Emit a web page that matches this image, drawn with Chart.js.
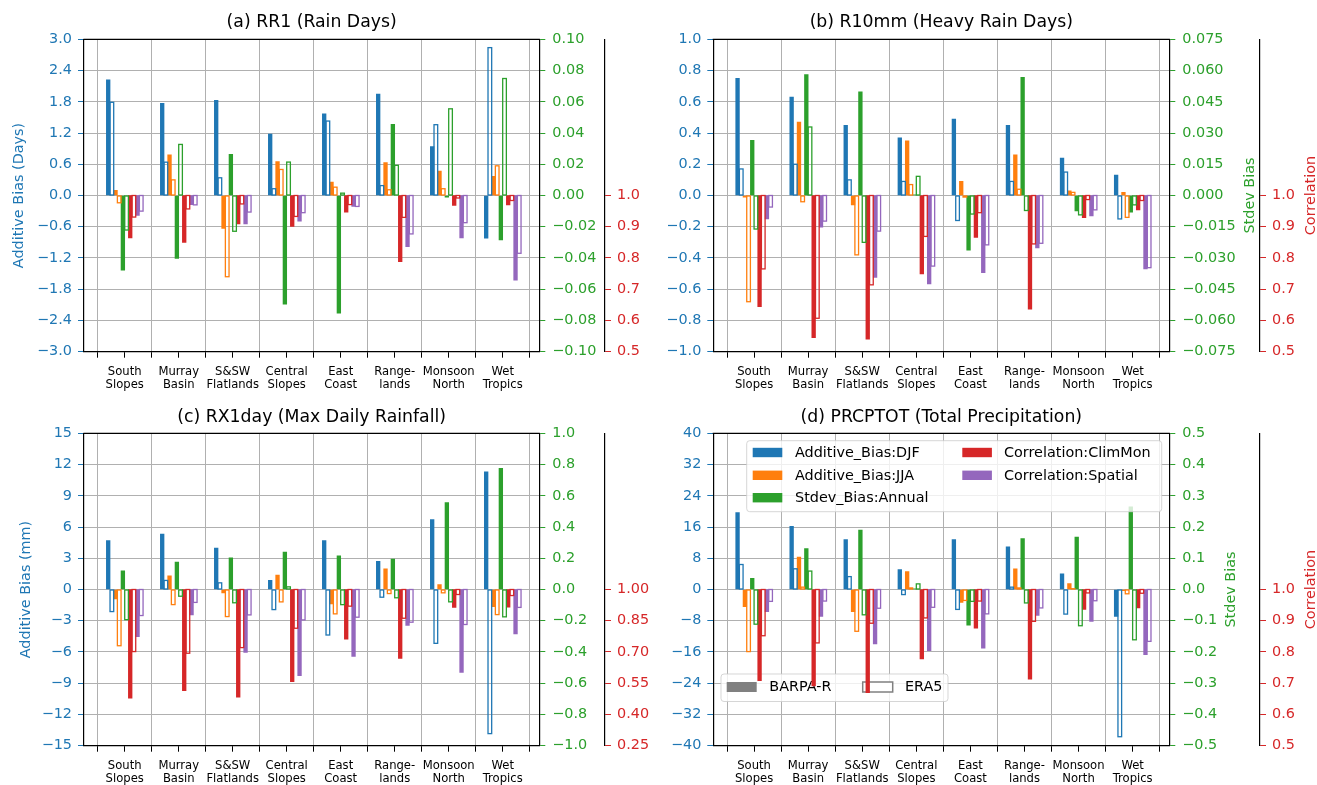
<!DOCTYPE html>
<html>
<head>
<meta charset="utf-8">
<script src="https://cdn.jsdelivr.net/npm/chart.js@4.4.1/dist/chart.umd.min.js"></script>
<style>
html,body{margin:0;padding:0;background:#fff;width:1317px;height:785px;overflow:hidden;position:relative}
canvas{position:absolute;display:block}
</style>
</head>
<body>
<canvas id="pa" width="658" height="392" style="left:0px;top:0px;width:658px;height:392px"></canvas>
<canvas id="pb" width="659" height="392" style="left:658px;top:0px;width:659px;height:392px"></canvas>
<canvas id="pc" width="658" height="393" style="left:0px;top:392px;width:658px;height:393px"></canvas>
<canvas id="pd" width="659" height="393" style="left:658px;top:392px;width:659px;height:393px"></canvas>
<script>
// ---------------- categories & legend names ----------------
const categories = [["South","Slopes"],["Murray","Basin"],["S&SW","Flatlands"],["Central","Slopes"],["East","Coast"],["Range-","lands"],["Monsoon","North"],["Wet","Tropics"]];
const seriesNames = ["Additive_Bias:DJF","Additive_Bias:JJA","Stdev_Bias:Annual","Correlation:ClimMon","Correlation:Spatial"];
const sourceNames = ["BARPA-R","ERA5"];
const corrRef = 1.0;

// ---------------- (a) RR1 ----------------
const rr1DjfBarpa  = [2.22, 1.77, 1.83, 1.18, 1.57, 1.95, 0.94, -0.82];
const rr1DjfEra5   = [1.79, 0.64, 0.34, 0.13, 1.43, 0.19, 1.36, 2.84];
const rr1JjaBarpa  = [0.10, 0.78, -0.63, 0.65, 0.26, 0.63, 0.47, 0.37];
const rr1JjaEra5   = [-0.14, 0.30, -1.56, 0.50, 0.16, 0.11, 0.13, 0.57];
const rr1StdBarpa  = [-0.0478, -0.0403, 0.0263, -0.0696, -0.0754, 0.0456, -0.0011, -0.0285];
const rr1StdEra5   = [-0.0221, 0.0327, -0.0229, 0.0214, 0.0015, 0.0193, 0.0555, 0.0749];
const rr1ClimBarpa = [0.864, 0.850, 0.909, 0.901, 0.947, 0.788, 0.968, 0.970];
const rr1ClimEra5  = [0.931, 0.957, 0.973, 0.933, 0.971, 0.930, 0.992, 0.984];
const rr1SpatBarpa = [0.936, 0.971, 0.909, 0.918, 0.965, 0.836, 0.864, 0.729];
const rr1SpatEra5  = [0.950, 0.970, 0.947, 0.945, 0.965, 0.877, 0.913, 0.815];
const rr1AddTicks  = [-3.0, -2.4, -1.8, -1.2, -0.6, 0.0, 0.6, 1.2, 1.8, 2.4, 3.0];
const rr1StdTicks  = [-0.10, -0.08, -0.06, -0.04, -0.02, 0.00, 0.02, 0.04, 0.06, 0.08, 0.10];
const rr1CorrTicks = [0.5, 0.6, 0.7, 0.8, 0.9, 1.0];

// ---------------- (b) R10mm ----------------
const r10DjfBarpa  = [0.75, 0.63, 0.45, 0.37, 0.49, 0.45, 0.24, 0.13];
const r10DjfEra5   = [0.17, 0.20, 0.10, 0.09, -0.16, 0.09, 0.15, -0.15];
const r10JjaBarpa  = [-0.01, 0.47, -0.06, 0.35, 0.09, 0.26, 0.03, 0.02];
const r10JjaEra5   = [-0.68, -0.04, -0.38, 0.07, -0.01, 0.04, 0.02, -0.14];
const r10StdBarpa  = [0.0265, 0.0581, 0.0498, 0.0003, -0.0262, 0.0567, -0.0074, -0.0080];
const r10StdEra5   = [-0.0161, 0.0329, -0.0225, 0.0092, -0.0089, -0.0072, -0.0093, -0.0045];
const r10ClimBarpa = [0.644, 0.545, 0.540, 0.749, 0.866, 0.636, 0.929, 0.954];
const r10ClimEra5  = [0.765, 0.607, 0.714, 0.869, 0.945, 0.845, 0.987, 0.984];
const r10SpatBarpa = [0.925, 0.899, 0.738, 0.717, 0.753, 0.832, 0.935, 0.765];
const r10SpatEra5  = [0.963, 0.918, 0.886, 0.774, 0.842, 0.847, 0.954, 0.769];
const r10AddTicks  = [-1.0, -0.8, -0.6, -0.4, -0.2, 0.0, 0.2, 0.4, 0.6, 0.8, 1.0];
const r10StdTicks  = [-0.075, -0.060, -0.045, -0.030, -0.015, 0.000, 0.015, 0.030, 0.045, 0.060, 0.075];
const r10CorrTicks = [0.5, 0.6, 0.7, 0.8, 0.9, 1.0];

// ---------------- (c) RX1day ----------------
const rx1DjfBarpa  = [4.69, 5.33, 3.98, 0.87, 4.69, 2.70, 6.71, 11.31];
const rx1DjfEra5   = [-2.12, 0.87, 0.64, -1.93, -4.37, -0.74, -5.17, -13.84];
const rx1JjaBarpa  = [-0.90, 1.32, -0.32, 1.38, -1.38, 1.99, 0.48, -1.64];
const rx1JjaEra5   = [-5.40, -1.45, -2.60, -1.19, -2.34, -0.39, -0.32, -2.41];
const rx1StdBarpa  = [0.120, 0.175, 0.203, 0.240, 0.216, 0.195, 0.557, 0.775];
const rx1StdEra5   = [-0.193, -0.043, -0.085, 0.017, -0.097, -0.053, -0.079, -0.175];
const rx1ClimBarpa = [0.478, 0.514, 0.483, 0.557, 0.761, 0.669, 0.914, 0.915];
const rx1ClimEra5  = [0.702, 0.694, 0.721, 0.814, 0.920, 0.862, 0.976, 0.971];
const rx1SpatBarpa = [0.774, 0.878, 0.698, 0.586, 0.679, 0.827, 0.602, 0.787];
const rx1SpatEra5  = [0.875, 0.938, 0.878, 0.854, 0.867, 0.843, 0.832, 0.914];
const rx1AddTicks  = [-15, -12, -9, -6, -3, 0, 3, 6, 9, 12, 15];
const rx1StdTicks  = [-1.0, -0.8, -0.6, -0.4, -0.2, 0.0, 0.2, 0.4, 0.6, 0.8, 1.0];
const rx1CorrTicks = [0.25, 0.40, 0.55, 0.70, 0.85, 1.00];

// ---------------- (d) PRCPTOT ----------------
const prcDjfBarpa  = [19.7, 16.2, 12.8, 5.1, 12.8, 10.9, 4.0, -6.9];
const prcDjfEra5   = [6.4, 5.3, 3.3, -1.3, -5.1, 0.6, -6.3, -37.7];
const prcJjaBarpa  = [-4.4, 8.3, -5.7, 4.6, -3.3, 5.3, 1.5, -0.3];
const prcJjaEra5   = [-15.9, 0.6, -10.7, 0.4, -2.8, 0.4, 0.2, -1.1];
const prcStdBarpa  = [0.036, 0.131, 0.190, 0.002, -0.114, 0.163, 0.168, 0.265];
const prcStdEra5   = [-0.111, 0.059, -0.081, 0.018, -0.038, -0.043, -0.116, -0.161];
const prcClimBarpa = [0.708, 0.691, 0.670, 0.778, 0.876, 0.713, 0.936, 0.941];
const prcClimEra5  = [0.852, 0.829, 0.892, 0.909, 0.963, 0.898, 0.989, 0.988];
const prcSpatBarpa = [0.929, 0.914, 0.826, 0.804, 0.812, 0.917, 0.898, 0.791];
const prcSpatEra5  = [0.962, 0.963, 0.940, 0.943, 0.922, 0.941, 0.964, 0.834];
const prcAddTicks  = [-40, -32, -24, -16, -8, 0, 8, 16, 24, 32, 40];
const prcStdTicks  = [-0.5, -0.4, -0.3, -0.2, -0.1, 0.0, 0.1, 0.2, 0.3, 0.4, 0.5];
const prcCorrTicks = [0.5, 0.6, 0.7, 0.8, 0.9, 1.0];

// ---------------- styling ----------------
const FONT = '"DejaVu Sans", "Liberation Sans", sans-serif';
const BLUE = '#1f77b4', ORANGE = '#ff7f0e', GREEN = '#2ca02c', RED = '#d62728', PURPLE = '#9467bd';
const seriesColors = [BLUE, ORANGE, GREEN, RED, PURPLE];
const GRID = '#b0b0b0';
const TICK_FONT = 14.4, LABEL_FONT = 14.4, TITLE_FONT = 17.3, XLAB_FONT = 11.6;
const HOLLOW_LW = 1.3;

function fmt(v, d) {
  const s = Math.abs(v).toFixed(d);
  return (v < 0 && parseFloat(s) !== 0 ? '\u2212' : '') + s;
}

const xTicks = [];
categories.forEach((c, i) => { xTicks.push(i - 0.5, i); });
xTicks.push(categories.length - 0.5);

function roundRectPath(ctx, x, y, w, h, r) {
  ctx.beginPath();
  ctx.moveTo(x + r, y);
  ctx.lineTo(x + w - r, y); ctx.quadraticCurveTo(x + w, y, x + w, y + r);
  ctx.lineTo(x + w, y + h - r); ctx.quadraticCurveTo(x + w, y + h, x + w - r, y + h);
  ctx.lineTo(x + r, y + h); ctx.quadraticCurveTo(x, y + h, x, y + h - r);
  ctx.lineTo(x, y + r); ctx.quadraticCurveTo(x, y, x + r, y);
  ctx.closePath();
}

function drawSeriesLegend(ctx, a) {
  const bx = a.left + 33.4, by = a.top + 7.4, bw = (a.right - 7.6) - bx, bh = 71;
  ctx.save();
  roundRectPath(ctx, bx, by, bw, bh, 3);
  ctx.fillStyle = 'rgba(255,255,255,0.8)'; ctx.fill();
  ctx.strokeStyle = 'rgba(204,204,204,0.8)'; ctx.lineWidth = 1; ctx.stroke();
  const rows = [11.8, 34.6, 57.0];
  ctx.font = LABEL_FONT + 'px ' + FONT; ctx.textAlign = 'left'; ctx.textBaseline = 'middle';
  seriesNames.forEach((name, i) => {
    const col = i < 3 ? 0 : 1, row = i < 3 ? i : i - 3;
    const px = bx + (col ? 215.6 : 6), tx = bx + (col ? 257.3 : 48.3), cy = by + rows[row];
    ctx.fillStyle = seriesColors[i]; ctx.fillRect(px, cy - 4.7, 29.6, 9.4);
    ctx.fillStyle = '#000'; ctx.fillText(name, tx, cy + 0.5);
  });
  ctx.restore();
}

function drawSourceLegend(ctx, a) {
  const bx = a.left + 7.7, by = a.top + 240.7, bw = 227, bh = 27.5;
  ctx.save();
  roundRectPath(ctx, bx, by, bw, bh, 3);
  ctx.fillStyle = 'rgba(255,255,255,0.8)'; ctx.fill();
  ctx.strokeStyle = 'rgba(204,204,204,0.8)'; ctx.lineWidth = 1; ctx.stroke();
  const cy = by + 13;
  ctx.fillStyle = '#808080'; ctx.fillRect(bx + 5.7, cy - 5, 30, 10);
  ctx.fillStyle = '#fff'; ctx.fillRect(bx + 141.7, cy - 5, 30, 10);
  ctx.strokeStyle = '#808080'; ctx.lineWidth = 1.5; ctx.strokeRect(bx + 141.7, cy - 5, 30, 10);
  ctx.font = LABEL_FONT + 'px ' + FONT; ctx.textAlign = 'left'; ctx.textBaseline = 'middle'; ctx.fillStyle = '#000';
  ctx.fillText(sourceNames[0], bx + 48.3, cy + 0.5);
  ctx.fillText(sourceNames[1], bx + 184, cy + 0.5);
  ctx.restore();
}

function makeDecor(p) {
  return {
    id: 'decor',
    beforeDatasetsDraw(chart) {
      if (p.sourceLegend) drawSourceLegend(chart.ctx, chart.chartArea);
    },
    // ERA5 (hollow) bars: outline the rectangles the library computed, with the
    // edge centred on the bar boundary like an unfilled patch
    afterDatasetDraw(chart, args) {
      const dsCfg = chart.data.datasets[args.index];
      if (!dsCfg.hollow) return;
      const ctx = chart.ctx;
      ctx.save();
      ctx.strokeStyle = dsCfg.borderColor;
      ctx.lineWidth = HOLLOW_LW;
      args.meta.data.forEach(el => {
        const pr = el.getProps(['x', 'y', 'base', 'width'], true);
        const top = Math.min(pr.y, pr.base), h = Math.abs(pr.y - pr.base);
        ctx.strokeRect(pr.x - pr.width / 2, top, pr.width, h);
      });
      ctx.restore();
    },
    afterDatasetsDraw(chart) {
      const ctx = chart.ctx, a = chart.chartArea;
      ctx.save();
      ctx.strokeStyle = '#000'; ctx.lineWidth = 1.2;
      ctx.beginPath(); ctx.moveTo(a.left - 0.6, a.top); ctx.lineTo(a.right + 0.6, a.top); ctx.stroke();
      ctx.restore();
      if (p.seriesLegend) drawSeriesLegend(ctx, a);
    },
    afterDraw(chart) {
      const ctx = chart.ctx, a = chart.chartArea;
      ctx.save();
      ctx.fillStyle = '#000'; ctx.font = TITLE_FONT + 'px ' + FONT;
      ctx.textAlign = 'center'; ctx.textBaseline = 'middle';
      ctx.fillText(p.title, (a.left + a.right) / 2, p.titleY);
      const cy = (a.top + a.bottom) / 2;
      const vlabel = (text, x, color) => {
        ctx.save(); ctx.translate(x, cy); ctx.rotate(-Math.PI / 2);
        ctx.fillStyle = color; ctx.font = LABEL_FONT + 'px ' + FONT;
        ctx.textAlign = 'center'; ctx.textBaseline = 'middle';
        ctx.fillText(text, 0, 0); ctx.restore();
      };
      if (p.leftLabel) vlabel(p.leftLabel, p.leftLabelX, BLUE);
      if (p.greenLabelX) vlabel('Stdev Bias', p.greenLabelX, GREEN);
      if (p.redLabelX) vlabel('Correlation', p.redLabelX, RED);
      ctx.restore();
    }
  };
}

function buildPanel(canvasId, p) {
  const mk = (label, arr, color, axis, hollow, floating) => ({
    label: label,
    yAxisID: axis,
    hollow: hollow,
    data: arr.map((v, i) => ({ x: i, y: floating ? [v, corrRef] : v })),
    backgroundColor: hollow ? 'rgba(0,0,0,0)' : color,
    borderColor: color,
    borderWidth: 0,
    borderSkipped: false,
    barThickness: 3.67
  });
  const s = p.series;
  const datasets = [
    mk('DJF BARPA-R', s[0], BLUE, 'y', false, false),
    mk('DJF ERA5', s[1], BLUE, 'y', true, false),
    mk('JJA BARPA-R', s[2], ORANGE, 'y', false, false),
    mk('JJA ERA5', s[3], ORANGE, 'y', true, false),
    mk('Stdev BARPA-R', s[4], GREEN, 'y2', false, false),
    mk('Stdev ERA5', s[5], GREEN, 'y2', true, false),
    mk('ClimMon BARPA-R', s[6], RED, 'y3', false, true),
    mk('ClimMon ERA5', s[7], RED, 'y3', true, true),
    mk('Spatial BARPA-R', s[8], PURPLE, 'y3', false, true),
    mk('Spatial ERA5', s[9], PURPLE, 'y3', true, true)
  ];
  const corrMin = p.corrTicks[0];
  const corrMax = 2 * corrRef - corrMin;
  new Chart(document.getElementById(canvasId), {
    type: 'bar',
    data: { datasets: datasets },
    options: {
      responsive: false,
      devicePixelRatio: 1,
      animation: false,
      events: [],
      layout: { padding: { top: p.padTop, left: 0, right: 0, bottom: 0 } },
      plugins: { legend: { display: false }, tooltip: { enabled: false }, title: { display: false } },
      scales: {
        x: {
          type: 'linear', position: 'bottom', bounds: 'data',
          min: -0.754, max: categories.length - 0.322,
          offset: false,
          afterBuildTicks: sc => { sc.ticks = xTicks.map(v => ({ value: v })); },
          afterFit: sc => { sc.height = p.xH; },
          ticks: {
            autoSkip: false, maxRotation: 0, minRotation: 0, padding: 8, color: '#000',
            font: { family: FONT, size: XLAB_FONT, lineHeight: 1.12 },
            callback: v => Number.isInteger(v) ? categories[v] : ''
          },
          grid: {
            offset: false, lineWidth: 1,
            color: c => (c.tick && !Number.isInteger(c.tick.value)) ? GRID : 'rgba(0,0,0,0)',
            tickColor: '#000', tickLength: 6, drawTicks: true
          },
          border: { display: true, color: '#000', width: 1.2 }
        },
        y: {
          type: 'linear', position: 'left', bounds: 'data',
          min: p.addTicks[0], max: p.addTicks[p.addTicks.length - 1],
          afterBuildTicks: sc => { sc.ticks = p.addTicks.map(v => ({ value: v })); },
          afterFit: sc => { sc.width = p.leftW; },
          ticks: { color: BLUE, padding: 6, font: { family: FONT, size: TICK_FONT }, callback: v => fmt(v, p.addDec) },
          grid: { color: GRID, lineWidth: 1, tickColor: BLUE, tickLength: 6, drawTicks: true },
          border: { display: true, color: '#000', width: 1.2 }
        },
        y2: {
          type: 'linear', position: 'right', bounds: 'data', weight: 0,
          min: p.stdTicks[0], max: p.stdTicks[p.stdTicks.length - 1],
          afterBuildTicks: sc => { sc.ticks = p.stdTicks.map(v => ({ value: v })); },
          afterFit: sc => { sc.width = p.greenW; },
          ticks: { color: GREEN, padding: 7, font: { family: FONT, size: TICK_FONT }, callback: v => fmt(v, p.stdDec) },
          grid: { drawOnChartArea: false, color: GREEN, lineWidth: 1, tickColor: GREEN, tickLength: 6, drawTicks: true },
          border: { display: true, color: '#000', width: 1.2 }
        },
        y3: {
          type: 'linear', position: 'right', bounds: 'data', weight: 1,
          min: corrMin, max: corrMax,
          afterBuildTicks: sc => { sc.ticks = p.corrTicks.map(v => ({ value: v })); },
          afterFit: sc => { sc.width = p.redW; },
          ticks: { color: RED, padding: 6, font: { family: FONT, size: TICK_FONT }, callback: v => fmt(v, p.corrDec) },
          grid: { drawOnChartArea: false, color: RED, lineWidth: 1, tickColor: RED, tickLength: 6, drawTicks: true },
          border: { display: true, color: '#000', width: 1.2 }
        }
      }
    },
    plugins: [makeDecor(p)]
  });
}

buildPanel('pa', {
  title: '(a) RR1 (Rain Days)', titleY: 23,
  series: [rr1DjfBarpa, rr1DjfEra5, rr1JjaBarpa, rr1JjaEra5, rr1StdBarpa, rr1StdEra5, rr1ClimBarpa, rr1ClimEra5, rr1SpatBarpa, rr1SpatEra5],
  addTicks: rr1AddTicks, addDec: 1, stdTicks: rr1StdTicks, stdDec: 2, corrTicks: rr1CorrTicks, corrDec: 1,
  leftW: 84, greenW: 65.7, redW: 53, padTop: 39.3, xH: 40.3,
  leftLabel: 'Additive Bias (Days)', leftLabelX: 19.5
});
buildPanel('pb', {
  title: '(b) R10mm (Heavy Rain Days)', titleY: 23,
  series: [r10DjfBarpa, r10DjfEra5, r10JjaBarpa, r10JjaEra5, r10StdBarpa, r10StdEra5, r10ClimBarpa, r10ClimEra5, r10SpatBarpa, r10SpatEra5],
  addTicks: r10AddTicks, addDec: 1, stdTicks: r10StdTicks, stdDec: 3, corrTicks: r10CorrTicks, corrDec: 1,
  leftW: 55.3, greenW: 90.7, redW: 57, padTop: 39.3, xH: 40.3,
  greenLabelX: 592, redLabelX: 653
});
buildPanel('pc', {
  title: '(c) RX1day (Max Daily Rainfall)', titleY: 25.7,
  series: [rx1DjfBarpa, rx1DjfEra5, rx1JjaBarpa, rx1JjaEra5, rx1StdBarpa, rx1StdEra5, rx1ClimBarpa, rx1ClimEra5, rx1SpatBarpa, rx1SpatEra5],
  addTicks: rx1AddTicks, addDec: 0, stdTicks: rx1StdTicks, stdDec: 1, corrTicks: rx1CorrTicks, corrDec: 2,
  leftW: 84, greenW: 65.7, redW: 53, padTop: 41.3, xH: 39.3,
  leftLabel: 'Additive Bias (mm)', leftLabelX: 26
});
buildPanel('pd', {
  title: '(d) PRCPTOT (Total Precipitation)', titleY: 25.7,
  series: [prcDjfBarpa, prcDjfEra5, prcJjaBarpa, prcJjaEra5, prcStdBarpa, prcStdEra5, prcClimBarpa, prcClimEra5, prcSpatBarpa, prcSpatEra5],
  addTicks: prcAddTicks, addDec: 0, stdTicks: prcStdTicks, stdDec: 1, corrTicks: prcCorrTicks, corrDec: 1,
  leftW: 55.3, greenW: 90.7, redW: 57, padTop: 41.3, xH: 39.3,
  greenLabelX: 573, redLabelX: 653,
  seriesLegend: true, sourceLegend: true
});
</script>
</body>
</html>
